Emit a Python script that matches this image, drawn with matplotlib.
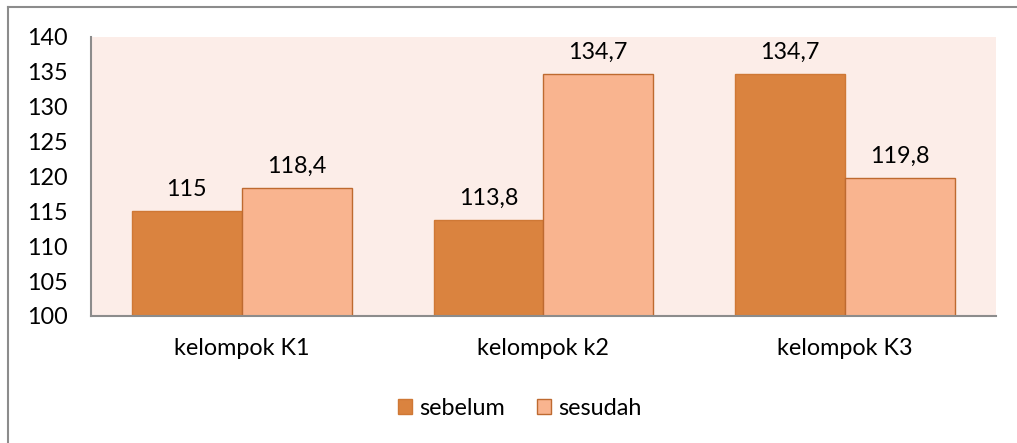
import numpy as np
import matplotlib.pyplot as plt
from matplotlib.lines import Line2D

categories = ["kelompok K1", "kelompok k2", "kelompok K3"]
sebelum = [115, 113.8, 134.7]
sesudah = [118.4, 134.7, 119.8]
labels_sebelum = ["115", "113,8", "134,7"]
labels_sesudah = ["118,4", "134,7", "119,8"]

plt.rcParams['font.family'] = ['Lato', 'DejaVu Sans']
FS = 16.8

fig = plt.figure(figsize=(10.17, 4.43), dpi=100)
ax = fig.add_axes([0.0895, 0.2867, 0.8895, 0.6298])
ax.set_facecolor('#FCEDE8')

x = np.arange(len(categories))
w = 0.364
b1 = ax.bar(x - w / 2, np.array(sebelum) - 100, w, bottom=100, color='#DA833F',
            edgecolor='#CF7835', linewidth=1, label='sebelum')
b2 = ax.bar(x + w / 2, np.array(sesudah) - 100, w, bottom=100, color='#F9B48F',
            edgecolor='#BE6A30', linewidth=1, label='sesudah')

for bars, vals, labs in [(b1, sebelum, labels_sebelum), (b2, sesudah, labels_sesudah)]:
    for r, v, t in zip(bars, vals, labs):
        ax.annotate(t, (r.get_x() + r.get_width() / 2, v), xytext=(0, 8),
                    textcoords='offset points', ha='center', va='bottom', fontsize=FS)

ax.set_xlim(-0.5, 2.5)
ax.set_ylim(100, 140)
ax.set_yticks(np.arange(100, 141, 5))
ax.set_xticks(x)
ax.set_xticklabels(categories, fontsize=FS)
ax.tick_params(axis='y', labelsize=FS, length=0, pad=17)
ax.tick_params(axis='x', length=0, pad=16)
for s in ['top', 'right']:
    ax.spines[s].set_visible(False)
for s in ['left', 'bottom']:
    ax.spines[s].set_color('#8C8C8C')
    ax.spines[s].set_linewidth(1.5)

ax.legend(loc='center', bbox_to_anchor=(0.511, 0.079), bbox_transform=fig.transFigure,
          ncol=2, frameon=False, fontsize=FS, handlelength=0.6, handleheight=0.6,
          handletextpad=0.3, columnspacing=1.4)

# outer chart border
fig.add_artist(Line2D([8 / 1017, 8 / 1017], [0, 1 - 7 / 443], transform=fig.transFigure,
                      color='#8C8C8C', linewidth=1.5))
fig.add_artist(Line2D([8 / 1017, 1], [1 - 7 / 443, 1 - 7 / 443], transform=fig.transFigure,
                      color='#8C8C8C', linewidth=1.5))

fig.savefig('out.png', dpi=100)
